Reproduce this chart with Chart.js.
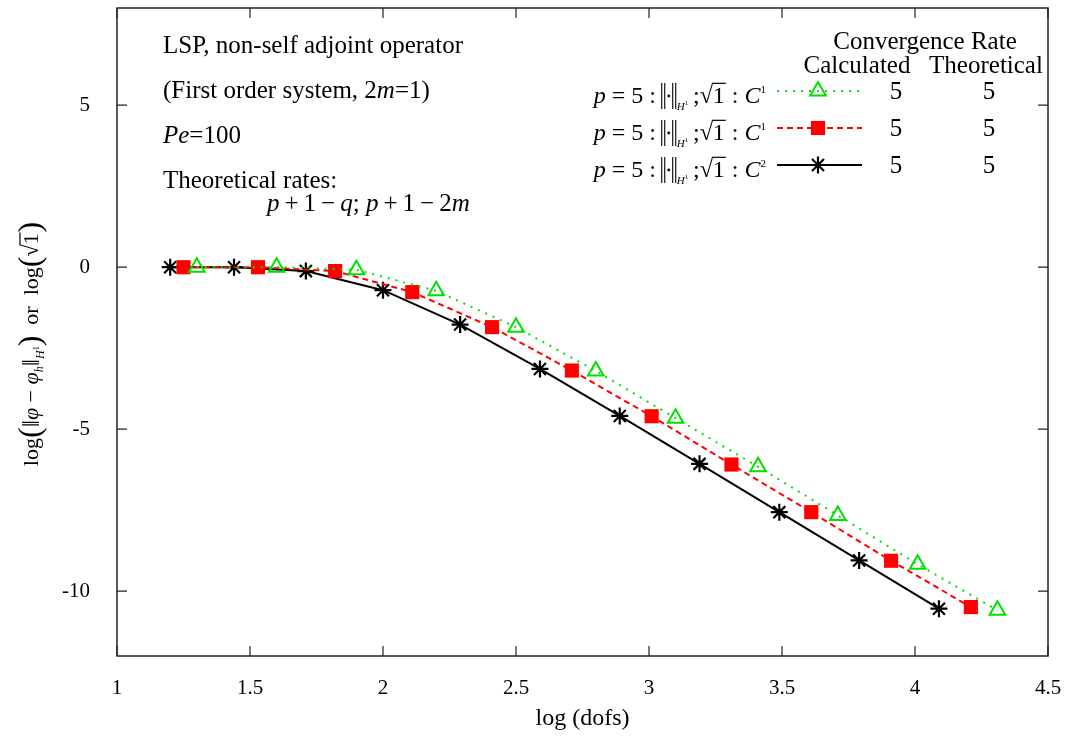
<!DOCTYPE html>
<html><head><meta charset="utf-8">
<script src="https://cdn.jsdelivr.net/npm/chart.js@4/dist/chart.umd.min.js"></script>
<style>html,body{margin:0;padding:0;background:#fff}canvas{display:block}</style>
</head><body>
<canvas id="c" width="1068" height="741"></canvas>
<script>
// ---- data ----
const xTicks = [1, 1.5, 2, 2.5, 3, 3.5, 4, 4.5];
const xTickLabels = ['1', '1.5', '2', '2.5', '3', '3.5', '4', '4.5'];
const yTicks = [-10, -5, 0, 5];
const yTickLabels = ['-10', '-5', '0', '5'];
const xC1a = [1.30, 1.60, 1.90, 2.20, 2.50, 2.80, 3.10, 3.41, 3.71, 4.01, 4.31];
const yC1a = [0, 0, -0.08, -0.73, -1.85, -3.20, -4.66, -6.16, -7.66, -9.17, -10.59];
const xC1b = [1.25, 1.53, 1.82, 2.11, 2.41, 2.71, 3.01, 3.31, 3.61, 3.91, 4.21];
const yC1b = [0, 0, -0.12, -0.77, -1.85, -3.19, -4.60, -6.09, -7.56, -9.06, -10.49];
const xC2 = [1.20, 1.44, 1.71, 2.00, 2.29, 2.59, 2.89, 3.19, 3.49, 3.79, 4.09];
const yC2 = [0, 0, -0.12, -0.71, -1.77, -3.14, -4.59, -6.07, -7.56, -9.05, -10.54];
const seriesSup = ['1', '1', '2'];
const calcRates = ['5', '5', '5'];
const theoRates = ['5', '5', '5'];

const FF = '"Liberation Serif", "Times New Roman", serif';
const GREEN = '#00e000', RED = '#ff0000', BLACK = '#000000';

function pts(xs, ys) { return xs.map((x, i) => ({ x: x, y: ys[i] })); }

// rich text: parts = [text, style, size, dy] or {sqrt:true,size} or {bars:true,...}
function rich(ctx, x, y, parts, draw, base) {
  base = base || 21;
  let cx = x;
  for (const p of parts) {
    if (p.sqrt) {
      const sz = p.size || base;
      ctx.font = sz + 'px ' + FF;
      const w1 = ctx.measureText('\u221A').width;
      const w2 = ctx.measureText('1').width;
      if (draw) {
        ctx.fillText('\u221A', cx, y);
        ctx.fillText('1', cx + w1, y);
        ctx.save();
        ctx.lineWidth = 1.2;
        ctx.beginPath();
        const oy = y - sz * 0.82;
        ctx.moveTo(cx + w1 - 1, oy);
        ctx.lineTo(cx + w1 + w2 + 1, oy);
        ctx.stroke();
        ctx.restore();
      }
      cx += w1 + w2 + 1;
      continue;
    }
    if (p.bars) {
      const h = p.h, w = p.w;
      if (draw) {
        ctx.save();
        ctx.lineWidth = 1.1;
        ctx.beginPath();
        const top = y - h + p.down, bot = y + p.down;
        [1, 4, w - 4, w - 1].forEach(ox => { ctx.moveTo(cx + ox, top); ctx.lineTo(cx + ox, bot); });
        ctx.stroke();
        ctx.beginPath();
        ctx.arc(cx + w / 2, (top + bot) / 2, 1.4, 0, Math.PI * 2);
        ctx.fill();
        ctx.restore();
      }
      cx += w;
      continue;
    }
    const [t, st, sz, dy] = p;
    ctx.font = (st === 'i' ? 'italic ' : '') + (sz || base) + 'px ' + FF;
    if (draw) ctx.fillText(t, cx, y + (dy || 0));
    cx += ctx.measureText(t).width;
  }
  return cx - x;
}

const deco = {
  id: 'deco',
  afterDraw(chart) {
    const ctx = chart.ctx;
    const a = chart.chartArea;
    const xs = chart.scales.x, ys = chart.scales.y;
    ctx.save();
    // frame
    ctx.strokeStyle = '#222';
    ctx.lineWidth = 1.5;
    ctx.strokeRect(a.left, a.top, a.right - a.left, a.bottom - a.top);
    // inward ticks
    ctx.lineWidth = 1.2;
    ctx.beginPath();
    for (const v of xTicks) {
      const px = xs.getPixelForValue(v);
      ctx.moveTo(px, a.bottom); ctx.lineTo(px, a.bottom - 10);
      ctx.moveTo(px, a.top); ctx.lineTo(px, a.top + 10);
    }
    for (const v of yTicks) {
      const py = ys.getPixelForValue(v);
      ctx.moveTo(a.left, py); ctx.lineTo(a.left + 10, py);
      ctx.moveTo(a.right, py); ctx.lineTo(a.right - 10, py);
    }
    ctx.stroke();

    ctx.fillStyle = '#000';
    ctx.strokeStyle = '#000';
    ctx.textBaseline = 'alphabetic';
    ctx.textAlign = 'left';
    // annotations
    const AS = 25;
    const th = '\u2009';
    rich(ctx, 163, 53, [['LSP, non-self adjoint operator', 'n']], true, AS);
    rich(ctx, 163, 98, [['(First order system, 2', 'n'], ['m', 'i'], ['=1)', 'n']], true, AS);
    rich(ctx, 163, 143, [['Pe', 'i'], ['=100', 'n']], true, AS);
    rich(ctx, 163, 188, [['Theoretical rates:', 'n']], true, AS);
    rich(ctx, 267, 211, [['p', 'i'], [th + '+' + th + '1' + th + '\u2212' + th, 'n'], ['q', 'i'], ['; ', 'n'], ['p', 'i'], [th + '+' + th + '1' + th + '\u2212' + th + '2', 'n'], ['m', 'i']], true, AS);

    // legend header
    ctx.textAlign = 'center';
    ctx.font = '25px ' + FF;
    ctx.fillText('Convergence Rate', 925, 49);
    ctx.fillText('Calculated', 857, 73);
    ctx.fillText('Theoretical', 986, 73);
    ctx.textAlign = 'left';

    const rowsY = [91, 128, 165];
    const ds = chart.data.datasets;
    for (let i = 0; i < 3; i++) {
      const ly = rowsY[i];
      const parts = [['p', 'i'], [' = 5 :' + th, 'n'], { bars: true, w: 16, h: 26, down: 6 }, ['H', 'i', 11, 7], ['1', 'n', 7, 2],
        [th + ';', 'n'], { sqrt: true }, [' : ', 'n'], ['C', 'i'], [seriesSup[i], 'n', 11, -10]];
      const w = rich(ctx, 0, 0, parts, false, 24);
      rich(ctx, 766 - w, ly + 12, parts, true, 24);
      // sample line
      const d = ds[i];
      ctx.save();
      ctx.strokeStyle = d.borderColor;
      ctx.lineWidth = d.borderWidth;
      ctx.setLineDash(d.borderDash || []);
      ctx.beginPath();
      ctx.moveTo(777, ly); ctx.lineTo(862, ly);
      ctx.stroke();
      ctx.setLineDash([]);
      ctx.lineWidth = d.pointBorderWidth;
      ctx.fillStyle = d.pointBackgroundColor;
      ctx.strokeStyle = d.pointBorderColor;
      Chart.helpers.drawPoint(ctx, { pointStyle: d.pointStyle, radius: d.pointRadius, rotation: 0, borderWidth: d.pointBorderWidth }, 818, ly);
      ctx.restore();
      ctx.fillStyle = '#000';
      ctx.textAlign = 'center';
      ctx.font = '25px ' + FF;
      ctx.fillText(calcRates[i], 896, ly + 8);
      ctx.fillText(theoRates[i], 989, ly + 8);
      ctx.textAlign = 'left';
    }

    // y title (rotated)
    ctx.save();
    ctx.translate(38, 344);
    ctx.rotate(-Math.PI / 2);
    const yt = [['log', 'n'], ['(', 'n', 32, 2], ['\u2016', 'n', 26, 1], ['\u03C6', 'i'], [' \u2212 ', 'n'], ['\u03C6', 'i'], ['h', 'i', 12, 5], ['\u2016', 'n', 26, 1], ['H', 'i', 12, 6], ['1', 'n', 8, 1], [')', 'n', 32, 2],
      ['  or  ', 'n'], ['log', 'n'], ['(', 'n', 32, 2], { sqrt: true }, [')', 'n', 32, 2]];
    const tw = rich(ctx, 0, 0, yt, false, 22);
    rich(ctx, -tw / 2, 0, yt, true, 22);
    ctx.restore();
    ctx.restore();
  }
};

new Chart(document.getElementById('c').getContext('2d'), {
  type: 'scatter',
  data: {
    datasets: [
      { data: pts(xC1a, yC1a), showLine: true, borderColor: GREEN, borderWidth: 2, borderDash: [2, 6],
        pointStyle: 'triangle', pointRadius: 9, pointBorderWidth: 2, pointBorderColor: GREEN, pointBackgroundColor: 'rgba(255,255,255,0)' },
      { data: pts(xC1b, yC1b), showLine: true, borderColor: RED, borderWidth: 2, borderDash: [6, 4],
        pointStyle: 'rect', pointRadius: 10, pointBorderWidth: 0, pointBorderColor: RED, pointBackgroundColor: RED },
      { data: pts(xC2, yC2), showLine: true, borderColor: BLACK, borderWidth: 2, borderDash: [],
        pointStyle: 'star', pointRadius: 8.5, pointBorderWidth: 2.2, pointBorderColor: BLACK, pointBackgroundColor: BLACK }
    ]
  },
  options: {
    responsive: false,
    animation: false,
    layout: { autoPadding: false, padding: { top: 8, right: 20, left: 0, bottom: 0 } },
    plugins: { legend: { display: false }, tooltip: { enabled: false } },
    scales: {
      x: {
        type: 'linear', min: 1, max: 4.5,
        afterBuildTicks: s => { s.ticks = xTicks.map(v => ({ value: v })); },
        afterFit: s => { s.height = 85; s.paddingLeft = 0; s.paddingRight = 0; },
        grid: { display: false, drawTicks: false },
        border: { display: false },
        ticks: { padding: 20, color: '#000', font: { family: FF, size: 21 }, maxRotation: 0,
          callback: (v) => { const i = xTicks.indexOf(v); return i >= 0 ? xTickLabels[i] : ''; } },
        title: { display: true, text: 'log (dofs)', color: '#000', font: { family: FF, size: 24 }, padding: { top: 0, bottom: 8 } }
      },
      y: {
        type: 'linear', min: -12, max: 8,
        afterBuildTicks: s => { s.ticks = yTicks.map(v => ({ value: v })); },
        afterFit: s => { s.width = 117; s.paddingTop = 0; s.paddingBottom = 0; },
        grid: { display: false, drawTicks: false },
        border: { display: false },
        ticks: { padding: 27, color: '#000', font: { family: FF, size: 21 },
          callback: (v) => { const i = yTicks.indexOf(v); return i >= 0 ? yTickLabels[i] : ''; } }
      }
    }
  },
  plugins: [deco]
});
</script>
</body></html>
